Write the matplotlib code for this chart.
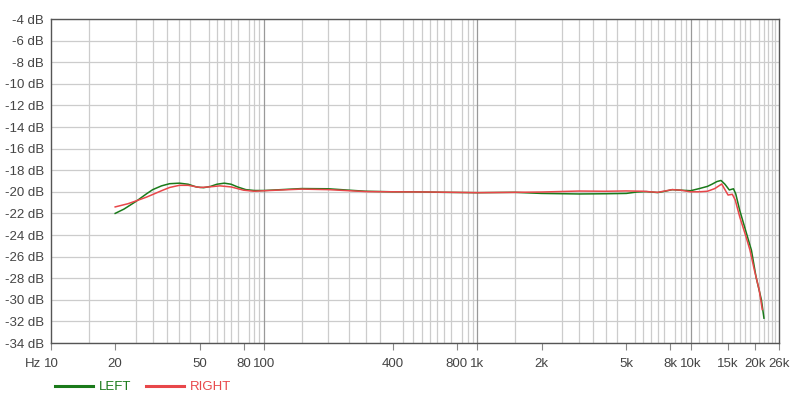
import matplotlib
matplotlib.use("Agg")
import matplotlib.pyplot as plt
from matplotlib.ticker import NullFormatter
import numpy as np

plt.rcParams['font.family'] = ['Liberation Sans', 'DejaVu Sans']

# ---- data ----
left_freq = [20, 22, 25, 28, 30, 33, 36, 40, 44, 48, 52, 56, 60, 65, 70, 75, 82, 90,
             100, 120, 150, 200, 250, 300, 400, 500, 700, 1000, 1500, 2000, 3000,
             4000, 5000, 5600, 6200, 7000, 7600, 8200, 9000, 10000, 11000, 12000,
             12600, 13300, 13900, 14500, 15200, 15900, 16300, 17000, 17900, 18900,
             19300, 20300, 21500, 22100]
left_db = [-22.0, -21.6, -20.9, -20.2, -19.8, -19.45, -19.25, -19.2, -19.3, -19.55,
           -19.62, -19.5, -19.3, -19.2, -19.3, -19.55, -19.8, -19.88,
           -19.88, -19.8, -19.7, -19.72, -19.85, -19.95, -20.0, -20.0, -20.05,
           -20.08, -20.05, -20.15, -20.2, -20.18, -20.15, -20.02, -19.98, -20.07,
           -19.95, -19.8, -19.85, -19.9, -19.7, -19.5, -19.3, -19.05, -18.95,
           -19.3, -19.83, -19.72, -20.2, -21.7, -23.2, -24.8, -25.4, -27.9,
           -30.0, -31.7]

right_freq = [20, 23, 25, 28, 30, 33, 36, 40, 44, 50, 55, 62, 70, 80, 90, 100, 150,
              200, 250, 300, 400, 600, 1000, 1500, 2000, 3000, 4000, 5000, 6000,
              7000, 8200, 9000, 10000, 11000, 12000, 13000, 14000, 15000, 15700,
              16200, 17000, 18200, 19000, 19900, 21000, 21700]
right_db = [-21.4, -21.1, -20.85, -20.5, -20.25, -19.9, -19.6, -19.4, -19.4, -19.6,
            -19.55, -19.45, -19.55, -19.85, -19.95, -19.9, -19.75, -19.8, -19.9,
            -19.98, -20.0, -20.02, -20.08, -20.05, -20.02, -19.93, -19.95, -19.92,
            -19.95, -20.05, -19.8, -19.85, -20.0, -20.0, -19.95, -19.7, -19.28,
            -20.3, -20.23, -20.75, -22.3, -24.15, -25.4, -27.2, -29.1, -30.9]

x_tick_vals = [10, 20, 50, 80, 100, 400, 800, 1000, 2000, 5000, 8000, 10000, 15000, 20000, 26000]
x_tick_labels = ['10', '20', '50', '80', '100', '400', '800', '1k', '2k', '5k', '8k',
                 '10k', '15k', '20k', '26k']
y_tick_vals = list(range(-34, -3, 2))
y_tick_labels = [f"{v} dB" for v in y_tick_vals]

series_names = ['LEFT', 'RIGHT']
green = '#1a7a1a'
red = '#e8474a'

# ---- figure ----
fig = plt.figure(figsize=(8, 4), dpi=100)
ax = fig.add_axes([51 / 800, (400 - 343) / 400, (779 - 51) / 800, (343 - 19) / 400])
ax.set_xscale('log')
ax.set_xlim(10, 26000)
ax.set_ylim(-34, -4)

# grid
minor_pos = []
for start, stop, step in [(10, 100, 5), (100, 1000, 50), (1000, 10000, 500), (10000, 26000, 1000)]:
    minor_pos += list(np.arange(start + step, stop, step))
ax.set_xticks(minor_pos, minor=True)
ax.xaxis.set_minor_formatter(NullFormatter())
ax.tick_params(axis='x', which='minor', length=0)
ax.grid(True, which='minor', axis='x', color='#cccccc', linewidth=0.9)
ax.set_yticks(y_tick_vals)
ax.set_yticklabels(y_tick_labels)
ax.grid(True, which='major', axis='y', color='#cccccc', linewidth=0.9)
for d in [100, 1000, 10000]:
    ax.axvline(d, color='#999999', linewidth=0.9, zorder=0.6)
ax.set_axisbelow(True)

ax.set_xticks(x_tick_vals)
ax.set_xticklabels(x_tick_labels)
ax.tick_params(axis='x', which='major', length=5, width=0.8, color='#888888',
               labelsize=9.5, labelcolor='#444444', pad=6)
ax.tick_params(axis='y', which='major', length=0, labelsize=9.5, labelcolor='#444444', pad=5)

for s in ax.spines.values():
    s.set_color('#555555')
    s.set_linewidth(1.0)

l1, = ax.plot(left_freq, left_db, color=green, linewidth=1.1, label=series_names[0])
l2, = ax.plot(right_freq, right_db, color=red, linewidth=1.1, label=series_names[1])

# "Hz" unit label placed on the same line as the x tick labels
ax.annotate('Hz', xy=(0, 0), xycoords='axes fraction', xytext=(-13, -11),
            textcoords='offset points', fontsize=9.5, color='#444444',
            ha='center', va='top')

leg = fig.legend(handles=[l1, l2], loc='center left', bbox_to_anchor=(43 / 800, 1 - 387 / 400),
                 ncol=2, frameon=False, fontsize=9.5, labelcolor='linecolor',
                 handlelength=2.9, handletextpad=0.45, columnspacing=1.1)
for h in leg.legend_handles:
    h.set_linewidth(2.2)

fig.savefig('out.png', dpi=100)
